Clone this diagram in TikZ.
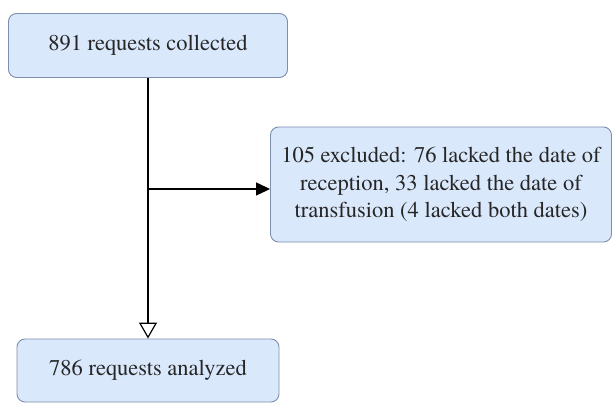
\documentclass[tikz,border=0pt]{standalone}
\usepackage{fontspec}
\setmainfont{TeX Gyre Termes}
\usetikzlibrary{arrows.meta}
\definecolor{boxfill}{HTML}{DAE8FC}
\definecolor{boxline}{HTML}{7D8FAD}
\begin{document}
\begin{tikzpicture}[x=1pt,y=-1pt,
  flowbox/.style={draw=boxline, fill=boxfill, rounded corners=8pt, line width=0.9pt,
    inner sep=0pt, align=center, font=\fontsize{22.5}{27.5}\selectfont, text=black!85},
  conn/.style={line width=1.2pt, black}]
\useasboundingbox (0,0) rectangle (612,403);
\node[flowbox, minimum width=279pt, minimum height=64pt] (collected) at (148,45.5) {891 requests collected};
\node[flowbox, minimum width=341pt, minimum height=115pt] (excluded) at (441,184.5)
  {105 excluded: 76 lacked the date of\\reception, 33 lacked the date of\\transfusion (4 lacked both dates)};
\node[flowbox, minimum width=262pt, minimum height=63pt] (analyzed) at (148,370.5) {786 requests analyzed};
\coordinate (branch) at (148,189);
\draw[conn, -{Triangle[open, length=16pt, width=18pt]}] (collected.south) -- (analyzed.north);
\draw[conn, -{Triangle[length=14pt, width=13pt]}] (branch) -- (branch -| excluded.west);
\end{tikzpicture}
\end{document}
